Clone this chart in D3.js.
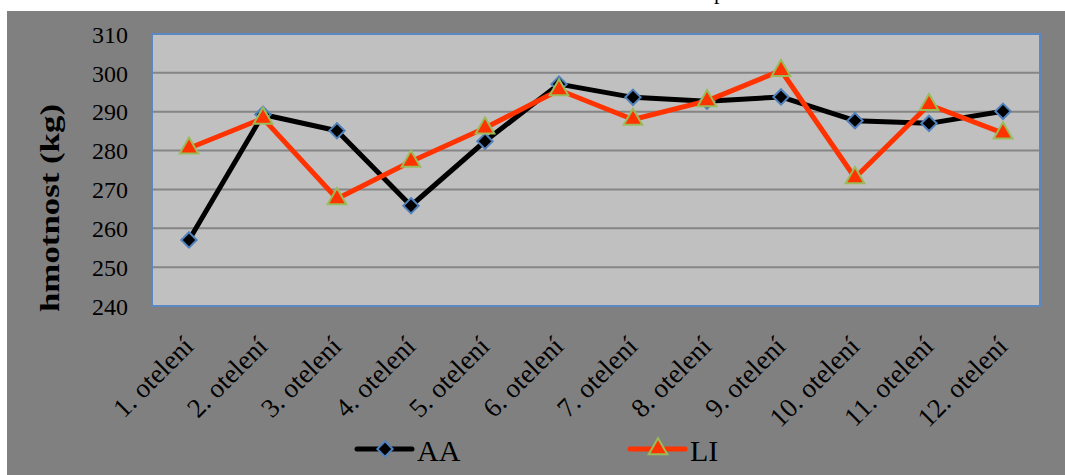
<!DOCTYPE html>
<html>
<head>
<meta charset="utf-8">
<script src="https://cdn.jsdelivr.net/npm/d3@7"></script>
<style>
  html, body { margin: 0; padding: 0; background: #ffffff; }
  svg { display: block; }
</style>
</head>
<body>
<script>
// Calving order categories and mean weights for the two groups
const categories = ["1. otelení", "2. otelení", "3. otelení", "4. otelení", "5. otelení", "6. otelení",
                    "7. otelení", "8. otelení", "9. otelení", "10. otelení", "11. otelení", "12. otelení"];
const seriesAA = [257.0, 289.3, 285.1, 265.8, 282.4, 297.1, 293.7, 292.7, 293.8, 287.7, 287.0, 290.1];
const seriesLI = [280.6, 288.3, 267.6, 277.2, 285.8, 295.6, 288.0, 292.8, 300.6, 273.0, 291.8, 284.5];
const yTicks = [240, 250, 260, 270, 280, 290, 300, 310];
const yLabel = "hmotnost (kg)";
const legendNames = ["AA", "LI"];

const W = 1065, H = 475;
const plot = { left: 152, top: 34, right: 1040, bottom: 306 };
const serif = "Liberation Serif, 'Times New Roman', serif";

const svg = d3.select("body").append("svg").attr("width", W).attr("height", H);

// Outer chart area
svg.append("rect").attr("x", 7).attr("y", 11).attr("width", W - 7).attr("height", H - 11).attr("fill", "#808080");

// Remnant of the heading above the chart area
svg.append("text").attr("x", 714).attr("y", -1)
  .attr("font-family", serif).attr("font-size", 22).attr("fill", "#000")
  .text("p");

const x = d3.scaleBand().domain(categories).range([plot.left, plot.right]).paddingInner(0).paddingOuter(0);
const y = d3.scaleLinear().domain([240, 310]).range([plot.bottom, plot.top]);

// Plot area
svg.append("rect")
  .attr("x", plot.left).attr("y", plot.top)
  .attr("width", plot.right - plot.left).attr("height", plot.bottom - plot.top)
  .attr("fill", "#c0c0c0");

// Horizontal gridlines
svg.append("g").selectAll("line").data(yTicks.filter(t => t > 240 && t < 310)).join("line")
  .attr("x1", plot.left).attr("x2", plot.right)
  .attr("y1", d => y(d)).attr("y2", d => y(d))
  .attr("stroke", "#858585").attr("stroke-width", 2);

// Plot border
svg.append("rect")
  .attr("x", plot.left).attr("y", plot.top)
  .attr("width", plot.right - plot.left).attr("height", plot.bottom - plot.top)
  .attr("fill", "none").attr("stroke", "#5b87c4").attr("stroke-width", 2);

// Y axis
const yAxis = d3.axisLeft(y).tickValues(yTicks).tickSize(0).tickPadding(24).tickFormat(d3.format("d"));
const yg = svg.append("g").attr("transform", `translate(${plot.left},0)`).call(yAxis);
yg.select(".domain").remove();
yg.selectAll("text")
  .attr("font-family", serif).attr("font-size", 24).attr("fill", "#000")
  .attr("dy", "0.34em");

// X axis with rotated labels
const xAxis = d3.axisBottom(x).tickSize(0).tickPadding(0);
const xg = svg.append("g").attr("transform", `translate(0,${plot.bottom})`).call(xAxis);
xg.select(".domain").remove();
xg.selectAll("text")
  .attr("font-family", serif).attr("font-size", 27).attr("fill", "#000")
  .attr("text-anchor", "end")
  .attr("dy", 0)
  .attr("transform", "translate(6,42) rotate(-45)");

// Y axis title
svg.append("text")
  .attr("transform", `translate(59,208) rotate(-90)`)
  .attr("text-anchor", "middle")
  .attr("font-family", serif).attr("font-size", 27).attr("font-weight", "bold")
  .attr("fill", "#000")
  .attr("textLength", 208).attr("lengthAdjust", "spacingAndGlyphs")
  .text(yLabel);

const cx = d => x(d) + x.bandwidth() / 2;
const line = d3.line().x(d => cx(d[0])).y(d => y(d[1]));

const aaData = categories.map((c, i) => [c, seriesAA[i]]);
const liData = categories.map((c, i) => [c, seriesLI[i]]);

const diamond = d3.symbol().type(d3.symbolDiamond2).size(150);
const triangle = d3.symbol().type(d3.symbolTriangle).size(150);

// AA series
svg.append("path").datum(aaData).attr("d", line)
  .attr("fill", "none").attr("stroke", "#000").attr("stroke-width", 5).attr("stroke-linejoin", "round");
svg.append("g").selectAll("path").data(aaData).join("path")
  .attr("d", diamond)
  .attr("transform", d => `translate(${cx(d[0])},${y(d[1])})`)
  .attr("fill", "#000").attr("stroke", "#4f81bd").attr("stroke-width", 2);

// LI series
svg.append("path").datum(liData).attr("d", line)
  .attr("fill", "none").attr("stroke", "#ff3300").attr("stroke-width", 5).attr("stroke-linejoin", "round");
svg.append("g").selectAll("path").data(liData).join("path")
  .attr("d", triangle)
  .attr("transform", d => `translate(${cx(d[0])},${y(d[1])})`)
  .attr("fill", "#ff3300").attr("stroke", "#9bbb59").attr("stroke-width", 2);

// Legend
const legend = svg.append("g");
const legendItems = [
  { name: legendNames[0], x: 357, color: "#000", sym: diamond, fill: "#000", stroke: "#4f81bd" },
  { name: legendNames[1], x: 630, color: "#ff3300", sym: triangle, fill: "#ff3300", stroke: "#9bbb59" }
];
legendItems.forEach(it => {
  const g = legend.append("g").attr("transform", `translate(${it.x},449)`);
  g.append("line").attr("x1", 0).attr("x2", 55).attr("y1", 0).attr("y2", 0)
    .attr("stroke", it.color).attr("stroke-width", 5).attr("stroke-linecap", "round");
  g.append("path").attr("d", it.sym).attr("transform", "translate(28,0)")
    .attr("fill", it.fill).attr("stroke", it.stroke).attr("stroke-width", 2);
  g.append("text").attr("x", 60).attr("y", 12)
    .attr("font-family", serif).attr("font-size", 30).attr("fill", "#000")
    .text(it.name);
});
</script>
</body>
</html>
